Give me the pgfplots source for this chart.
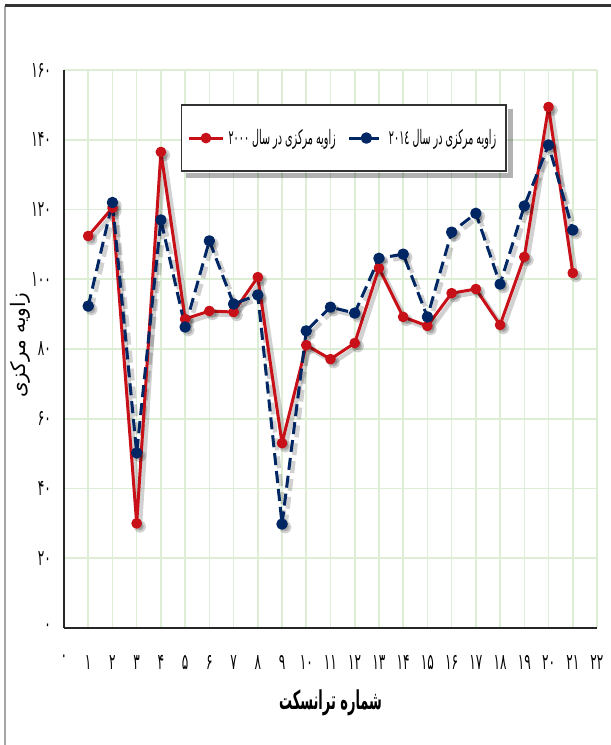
\documentclass[border=0pt]{standalone}
\usepackage{fontspec}
\usepackage{pgfplots}
\pgfplotsset{compat=1.18}
\usepackage{pgfplotstable}
\TeXXeTstate=1
\newfontfamily\tickfont[Script=Arabic,FakeStretch=0.55]{DejaVu Sans}
\newfontfamily\legfont[Script=Arabic,FakeStretch=0.48]{DejaVu Sans}
\newfontfamily\labfont[Script=Arabic,FakeStretch=0.5]{DejaVu Sans}
\newfontfamily\ylabfont[Script=Arabic]{DejaVu Sans}
\definecolor{serRed}{RGB}{200,16,24}
\definecolor{serBlue}{RGB}{0,38,100}
\definecolor{gridGreen}{RGB}{222,238,214}

% x: transect number, y2000 / y2014: central angle
\pgfplotstableread{
x   y2000  y2014
1   112.4  92.3
2   120.5  122.0
3   30.0   50.2
4   136.5  117.0
5   88.6   86.3
6   90.9   111.0
7   90.6   92.9
8   100.6  95.5
9   53.0   29.8
10  81.1   85.2
11  77.1   92.0
12  81.7   90.3
13  103.2  106.0
14  89.2   107.2
15  86.6   89.2
16  96.0   113.5
17  97.2   118.9
18  86.9   98.6
19  106.4  121.0
20  149.4  138.5
21  101.8  114.1
}\angles

\begin{document}
\begin{tikzpicture}[x=0.5pt,y=0.5pt]
\path[use as bounding box] (0,0) rectangle (611,745);
\draw[gray!70, line width=1pt] (5,0) -- (5,739);
\draw[black!80, line width=1.5pt] (5,739) -- (611,739);
\begin{axis}[
  at={(32pt,58.5pt)}, anchor=south west,
  width=266.5pt, height=279pt, scale only axis,
  xmin=0, xmax=22, ymin=0, ymax=160,
  xtick={0,1,...,22},
  ytick={0,20,...,160},
  xticklabels={۰,۱,۲,۳,۴,۵,۶,۷,۸,۹,۱۰,۱۱,۱۲,۱۳,۱۴,۱۵,۱۶,۱۷,۱۸,۱۹,۲۰,۲۱,۲۲},
  yticklabels={۰,۲۰,۴۰,۶۰,۸۰,۱۰۰,۱۲۰,۱۴۰,۱۶۰},
  axis x line*=bottom, axis y line*=left,
  axis line style={black!85, line width=1pt},
  tick style={draw=none},
  grid=major,
  major grid style={gridGreen, line width=0.8pt},
  ticklabel style={font=\tickfont\fontsize{11}{12}\selectfont},
  xticklabel style={yshift=-10pt},
  yticklabel style={xshift=-3pt},
  xlabel={\labfont\bfseries\fontsize{13}{14}\selectfont\beginR شماره ترانسکت\endR},
  xlabel style={at={(axis description cs:0.5,-0.134)}, anchor=center},
  ylabel={\ylabfont\fontsize{10}{12}\selectfont\beginR زاویه مرکزی\endR},
  ylabel style={at={(axis description cs:-0.081,0.507)}, anchor=center},
  every axis plot/.append style={line join=round},
  legend columns=2,
  legend style={at={(0.525,0.878)}, anchor=center, name=lgd,
    draw=black!80, line width=0.8pt, fill=white,
    inner xsep=3pt, inner ysep=10pt,
    /tikz/every even column/.append style={column sep=4pt},
    font=\legfont\fontsize{10}{11}\selectfont},
]
% soft shadows
\addplot[forget plot, black, opacity=0.18, line width=2.2pt, shift={(1.6pt,-1.6pt)},
  mark=*, mark size=2pt] table[x=x, y=y2000] {\angles};
\addplot[forget plot, black, opacity=0.18, line width=2.2pt, shift={(1.6pt,-1.6pt)},
  dash pattern=on 6pt off 3pt, mark=*, mark size=2pt, mark options={solid}]
  table[x=x, y=y2014] {\angles};

\addplot[serRed, line width=1.5pt, mark=*, mark size=1.9pt,
  mark options={fill=serRed, draw=serRed}]
  table[x=x, y=y2000] {\angles};
\addlegendentry{\beginR زاویه مرکزی در سال \beginL۲۰۰۰\endL\endR}
\addplot[serBlue, line width=1.5pt, dash pattern=on 6pt off 3pt, mark=*, mark size=2.1pt,
  mark options={solid, fill=serBlue, draw=serBlue}]
  table[x=x, y=y2014] {\angles};
\addlegendentry{\beginR زاویه مرکزی در سال \beginL۲۰۱٤\endL\endR}
\end{axis}
% legend drop shadow (outside strips only)
\fill[black, opacity=0.3] ([shift={(2.5pt,-2.8pt)}]lgd.south west) rectangle ([shift={(0.4pt,-0.4pt)}]lgd.south east);
\fill[black, opacity=0.3] ([shift={(0.4pt,-2.8pt)}]lgd.south east) rectangle ([shift={(2.8pt,-2.5pt)}]lgd.north east);
\end{tikzpicture}
\end{document}
